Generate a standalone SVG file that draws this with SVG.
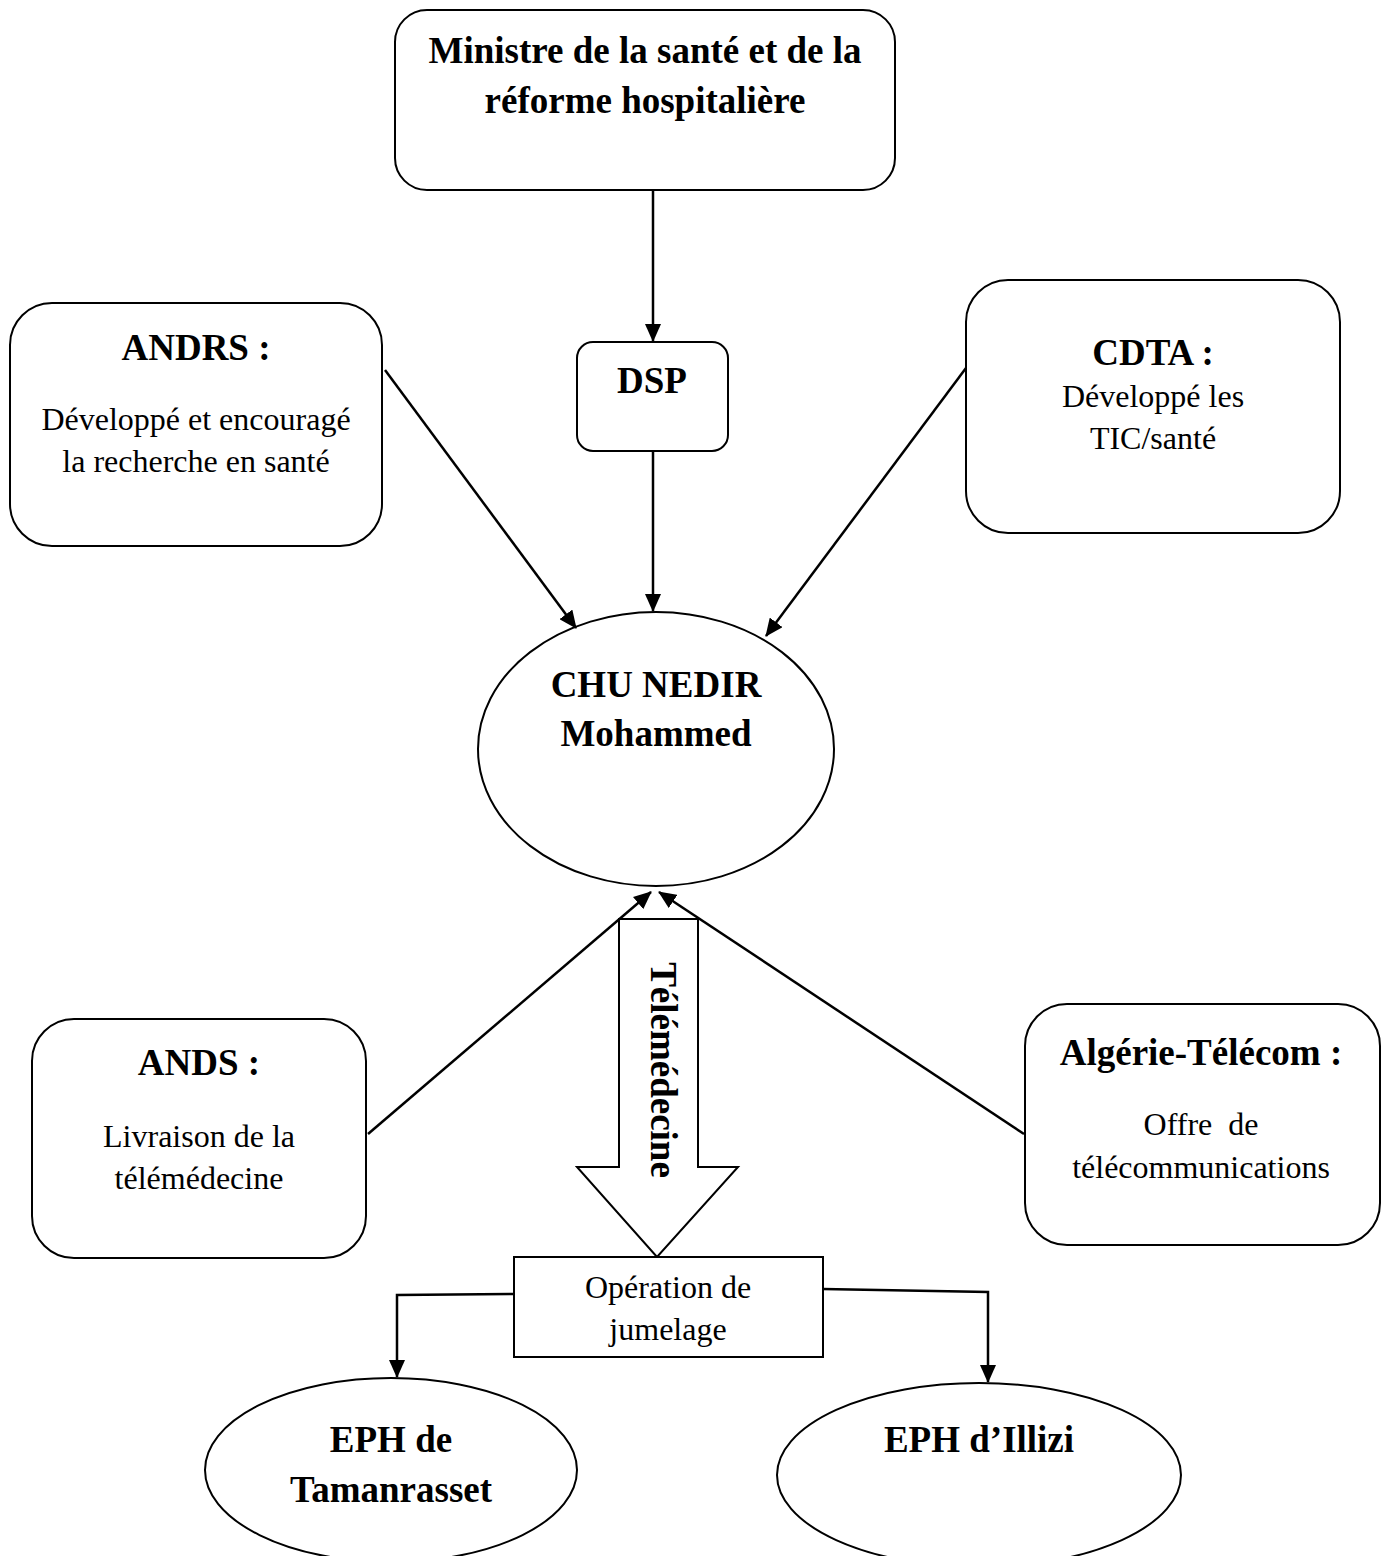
<svg xmlns="http://www.w3.org/2000/svg" width="1389" height="1556" viewBox="0 0 1389 1556">
<defs>
<marker id="ah" markerWidth="18" markerHeight="16" refX="17" refY="8" orient="auto" markerUnits="userSpaceOnUse" viewBox="0 0 18 16">
<path d="M0,0 L18,8 L0,16 Z" fill="#000"/>
</marker>
<style>
.box{fill:#fff;stroke:#000;stroke-width:2}
.b{font-family:"Liberation Serif",serif;font-weight:bold;font-size:37px;text-anchor:middle;fill:#000}
.r{font-family:"Liberation Serif",serif;font-size:32px;text-anchor:middle;fill:#000}
.c{fill:none;stroke:#000;stroke-width:2.5}
</style>
</defs>
<rect width="1389" height="1556" fill="#fff"/>
<g id="ministre">
<rect class="box" x="395" y="10" width="500" height="180" rx="32"/>
<text class="b" x="645" y="63">Ministre de la santé et de la</text>
<text class="b" x="645" y="113">réforme hospitalière</text>
</g>
<g id="dsp">
<rect class="box" x="577" y="342" width="151" height="109" rx="16"/>
<text class="b" x="652" y="393">DSP</text>
</g>
<g id="andrs">
<rect class="box" x="10" y="303" width="372" height="243" rx="42"/>
<text class="b" x="196" y="360">ANDRS :</text>
<text class="r" x="196" y="430">Développé et encouragé</text>
<text class="r" x="196" y="472">la recherche en santé</text>
</g>
<g id="cdta">
<rect class="box" x="966" y="280" width="374" height="253" rx="42"/>
<text class="b" x="1153" y="365">CDTA :</text>
<text class="r" x="1153" y="407">Développé les</text>
<text class="r" x="1153" y="449">TIC/santé</text>
</g>
<g id="chu">
<ellipse class="box" cx="656" cy="749" rx="178" ry="137"/>
<text class="b" x="656" y="697">CHU NEDIR</text>
<text class="b" x="656" y="746">Mohammed</text>
</g>
<g id="ands">
<rect class="box" x="32" y="1019" width="334" height="239" rx="42"/>
<text class="b" x="199" y="1075">ANDS :</text>
<text class="r" x="199" y="1147">Livraison de la</text>
<text class="r" x="199" y="1189">télémédecine</text>
</g>
<g id="algerie">
<rect class="box" x="1025" y="1004" width="355" height="241" rx="42"/>
<text class="b" x="1201" y="1065">Algérie-Télécom :</text>
<text class="r" x="1201" y="1135" xml:space="preserve">Offre  de</text>
<text class="r" x="1201" y="1178">télécommunications</text>
</g>
<g id="telemedecine">
<path class="box" d="M619,919 L698,919 L698,1167 L738,1167 L657,1257 L577,1167 L619,1167 Z"/>
<text class="b" transform="translate(651,1070) rotate(90)" x="0" y="0">Télémédecine</text>
</g>
<g id="jumelage">
<rect class="box" x="514" y="1257" width="309" height="100"/>
<text class="r" x="668" y="1298">Opération de</text>
<text class="r" x="668" y="1340">jumelage</text>
</g>
<g id="tamanrasset">
<ellipse class="box" cx="391" cy="1470" rx="186" ry="92"/>
<text class="b" x="391" y="1452">EPH de</text>
<text class="b" x="391" y="1502">Tamanrasset</text>
</g>
<g id="illizi">
<ellipse class="box" cx="979" cy="1475" rx="202" ry="92"/>
<text class="b" x="979" y="1452">EPH d’Illizi</text>
</g>
<g id="connectors">
<line class="c" x1="653" y1="190" x2="653" y2="341" marker-end="url(#ah)"/>
<line class="c" x1="653" y1="451" x2="653" y2="611" marker-end="url(#ah)"/>
<line class="c" x1="385" y1="370" x2="576" y2="628" marker-end="url(#ah)"/>
<line class="c" x1="966" y1="368" x2="766" y2="636" marker-end="url(#ah)"/>
<line class="c" x1="368" y1="1134" x2="651" y2="892" marker-end="url(#ah)"/>
<line class="c" x1="1024" y1="1134" x2="659" y2="892" marker-end="url(#ah)"/>
<polyline class="c" points="514,1294 397,1295 397,1377" marker-end="url(#ah)"/>
<polyline class="c" points="823,1289 988,1292 988,1382" marker-end="url(#ah)"/>
</g>
</svg>
